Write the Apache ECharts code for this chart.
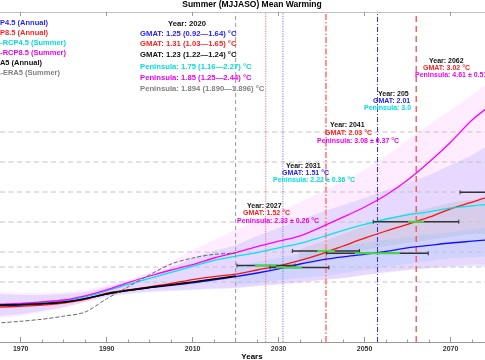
<!DOCTYPE html>
<html><head><meta charset="utf-8">
<script src="https://cdn.jsdelivr.net/npm/echarts@6/dist/echarts.min.js"></script>
<style>html,body{margin:0;padding:0;background:#fff}#c{width:485px;height:360px}</style>
</head><body><div id="c"></div>
<script>
// ---------- DATA ----------
const years = [1960,1965,1970,1975,1980,1985,1990,1995,2000,2005,2010,2015,2020,2025,2030,2035,2040,2045,2050,2055,2060,2065,2070,2075,2080];
const obsYears = [1960,1965,1970,1975,1980,1985,1990,1995,2000,2005,2010,2015,2020];
const gmatRcp45 = [0.58,0.60,0.615,0.635,0.665,0.72,0.80,0.86,0.905,0.945,0.985,1.035,1.09,1.15,1.22,1.30,1.37,1.42,1.46,1.51,1.57,1.61,1.65,1.68,1.71];
const gmatRcp85 = [0.56,0.58,0.595,0.615,0.65,0.71,0.815,0.87,0.92,0.975,1.04,1.09,1.13,1.20,1.27,1.36,1.47,1.60,1.73,1.85,1.96,2.08,2.22,2.33,2.45];
const penRcp45 = [0.60,0.62,0.635,0.66,0.69,0.75,0.85,0.96,1.06,1.16,1.26,1.36,1.43,1.49,1.57,1.645,1.75,1.86,1.96,2.05,2.12,2.17,2.23,2.27,2.30];
const penRcp85 = [0.61,0.63,0.645,0.67,0.70,0.77,0.87,0.99,1.10,1.20,1.29,1.40,1.49,1.59,1.68,1.77,1.92,2.08,2.25,2.45,2.70,3.00,3.33,3.70,3.98];
const gmatEra5 = [0.60,0.615,0.625,0.64,0.665,0.72,0.80,0.86,0.91,0.955,1.0,1.05,1.10];
const penEra5 = [0.28,0.317,0.345,0.38,0.43,0.50,0.72,0.92,1.12,1.30,1.40,1.46,1.48];

// uncertainty ranges
const pinkUpper = [0.867,0.833,0.817,0.817,0.833,0.867,0.95,1.033,1.167,1.333,1.533,1.7,1.867,2.017,2.167,2.333,2.5,2.683,2.867,3.1,3.367,3.617,3.867,4.117,4.333];
const pinkLower = [0.367,0.4,0.433,0.5,0.567,0.667,0.767,0.817,0.85,0.867,0.883,0.9,0.9,0.933,0.95,0.983,1.033,1.067,1.117,1.15,1.2,1.233,1.267,1.3,1.333];
const lavUpper = [0.833,0.8,0.783,0.783,0.8,0.833,0.917,1.0,1.1,1.233,1.4,1.517,1.617,1.767,1.9,2.033,2.167,2.283,2.4,2.533,2.65,2.783,2.95,3.117,3.283];
const lavLower = [0.4,0.433,0.467,0.517,0.583,0.667,0.75,0.8,0.833,0.85,0.867,0.883,0.9,0.933,0.967,1.0,1.033,1.067,1.117,1.167,1.2,1.233,1.25,1.267,1.283];
const grayYears = [2035,2040,2045,2050,2055,2060,2065,2070,2075,2080];
const grayUpper = [1.533,1.667,1.8,1.933,2.05,2.15,2.233,2.317,2.367,2.4];
const grayLower = [1.333,1.4,1.467,1.533,1.6,1.65,1.7,1.75,1.8,1.833];
const blueYears = [2020,2030,2040,2050,2060,2070,2080];
const blueUpper = [1.233,1.4,1.533,1.65,1.75,1.833,1.9];
const blueLower = [0.967,1.033,1.1,1.2,1.3,1.4,1.467];

// crossing-time windows
const errLevel = [1.275,1.242,1.517,1.478,2.005,2.495];
const errStart = [2020.3,2028.0,2033.2,2041.1,2052.0,2072.2];
const errEnd   = [2033.8,2041.7,2048.8,2064.8,2071.9,2086.0];
const greenStart = [2024.5,2029.4,2039.0,2047.7,2060.1,2082.0];
const greenEnd   = [2029.4,2035.4,2043.1,2058.2,2063.8,2084.0];

// reference lines
const hLevels = [1.0,1.25,1.5,2.0,2.5,3.0,3.5];
const vYears = [2020,2027,2031,2041,2053,2062];

// axis ticks
const majorTicks = [1970,1990,2010,2030,2050,2070];
const minorTicks = [1970,1975,1980,1985,1990,1995,2000,2005,2010,2015,2020,2025,2030,2035,2040,2045,2050,2055,2060,2065,2070,2075];
const xMin = 1965.19, xMax = 2078.0, yMin = 0, yMax = 5.5;

// ---------- CHART ----------
const FONT = '"Liberation Sans", Arial, sans-serif';
const pairs = (xs, ys) => xs.map((x, i) => [x, ys[i]]);
const chart = echarts.init(document.getElementById('c'), null, {renderer: 'canvas'});

function band(name, xs, up, lo, color, z) {
  return {
    name, type: 'custom', coordinateSystem: 'cartesian2d', z, silent: true, clip: true,
    data: [[2000, 1]],
    renderItem: (params, api) => {
      const pts = [];
      for (let i = 0; i < xs.length; i++) pts.push(api.coord([xs[i], up[i]]));
      for (let i = xs.length - 1; i >= 0; i--) pts.push(api.coord([xs[i], lo[i]]));
      return {type: 'polygon', shape: {points: pts, smooth: 0.2}, style: {fill: color}};
    }
  };
}
function line(name, xs, ys, color, width, type, z) {
  return {name, type: 'line', data: pairs(xs, ys), showSymbol: false, smooth: 0.3, z: z || 5,
    lineStyle: {color, width, type: type || 'solid'}, silent: true};
}

const vStyles = [
  {stroke: '#9a9a9a', lineWidth: 1, lineDash: [4, 3]},
  {stroke: '#ff6a6a', lineWidth: 1, lineDash: [1.2, 1.3]},
  {stroke: '#7a7aff', lineWidth: 1, lineDash: [1.2, 1.3]},
  {stroke: '#ff9090', lineWidth: 2, lineDash: [6, 2, 1.5, 2]},
  {stroke: '#2a2aff', lineWidth: 1, lineDash: [5, 2, 1, 2]},
  {stroke: '#ff4a4a', lineWidth: 1.3, lineDash: [6, 4]}
];

const refLines = {
  type: 'custom', coordinateSystem: 'cartesian2d', z: 2, silent: true,
  data: [[2000, 1]],
  renderItem: (params, api) => {
    const ch = [];
    hLevels.forEach(v => {
      const a = api.coord([xMin, v]), b = api.coord([xMax, v]);
      ch.push({type: 'line', shape: {x1: a[0], y1: a[1], x2: b[0], y2: b[1]},
        style: {stroke: '#c4c4c4', lineWidth: 1, lineDash: [5, 3.5]}});
    });
    vYears.forEach((y, i) => {
      const a = api.coord([y, yMin]), b = api.coord([y, yMax]);
      ch.push({type: 'line', shape: {x1: a[0], y1: a[1], x2: b[0], y2: b[1]}, style: vStyles[i]});
    });
    return {type: 'group', children: ch};
  }
};

const errSeries = {
  type: 'custom', coordinateSystem: 'cartesian2d', z: 8, silent: true, clip: true,
  data: errLevel.map((v, i) => [errStart[i], v, i]),
  renderItem: (params, api) => {
    const i = api.value(2);
    const a = api.coord([errStart[i], errLevel[i]]);
    const b = api.coord([errEnd[i], errLevel[i]]);
    const g1 = api.coord([greenStart[i], errLevel[i]]);
    const g2 = api.coord([greenEnd[i], errLevel[i]]);
    return {type: 'group', children: [
      {type: 'line', shape: {x1: a[0], y1: a[1], x2: b[0], y2: b[1]}, style: {stroke: '#333', lineWidth: 1.6}},
      {type: 'line', shape: {x1: a[0], y1: a[1] - 2, x2: a[0], y2: a[1] + 2}, style: {stroke: '#333', lineWidth: 1}},
      {type: 'line', shape: {x1: b[0], y1: b[1] - 2, x2: b[0], y2: b[1] + 2}, style: {stroke: '#333', lineWidth: 1}},
      {type: 'line', shape: {x1: g1[0], y1: g1[1], x2: g2[0], y2: g2[1]}, style: {stroke: '#44dd44', lineWidth: 2}}
    ]};
  }
};

function txt(x, y, text, fill, size, align) {
  return {type: 'text', x, y, z: 100, silent: true,
    style: {text, fill, font: 'bold ' + size + 'px ' + FONT, textAlign: align || 'left', textVerticalAlign: 'middle'}};
}

const graphics = [
  txt(252, 5, 'Summer (MJJASO) Mean Warming', '#000', 8.5, 'center'),
  txt(252, 357, 'Years', '#000', 8, 'center'),
  txt(48, 23, 'GMAT-RCP4.5 (Annual)', '#1f1fff', 7.5, 'right'),
  txt(48, 33, 'GMAT-RCP8.5 (Annual)', '#ff1f1f', 7.5, 'right'),
  txt(66, 43, 'Peninsula-RCP4.5 (Summer)', '#00dddd', 7.5, 'right'),
  txt(66, 53, 'Peninsula-RCP8.5 (Summer)', '#ee00ee', 7.5, 'right'),
  txt(42, 63, 'GMAT-ERA5 (Annual)', '#111', 7.5, 'right'),
  txt(60, 73, 'Peninsula-ERA5 (Summer)', '#808080', 7.5, 'right'),

  txt(187, 24, 'Year: 2020', '#111', 7.7, 'center'),
  txt(140, 34, 'GMAT: 1.25 (0.92\u20141.64) \u00b0C', '#1f1fff', 7.7),
  txt(140, 44, 'GMAT: 1.31 (1.03\u20141.65) \u00b0C', '#ff1f1f', 7.7),
  txt(140, 55, 'GMAT: 1.23 (1.22\u20141.24) \u00b0C', '#111', 7.7),
  txt(140, 67, 'Peninsula: 1.75 (1.16\u20142.27) \u00b0C', '#00dddd', 7.7),
  txt(140, 78, 'Peninsula: 1.85 (1.25\u20142.44) \u00b0C', '#ee00ee', 7.7),
  txt(140, 89, 'Peninsula: 1.894 (1.890\u20141.896) \u00b0C', '#808080', 7.7),

  txt(247, 206, 'Year: 2027', '#111', 7),
  txt(243, 213, 'GMAT: 1.52 \u00b0C', '#ff1f1f', 7),
  txt(237, 221, 'Peninsula: 2.33 \u00b1 0.26 \u00b0C', '#ee00ee', 7),

  txt(286, 166, 'Year: 2031', '#111', 7),
  txt(282, 173, 'GMAT: 1.51 \u00b0C', '#1f1fff', 7),
  txt(273, 180, 'Peninsula: 2.22 \u00b1 0.36 \u00b0C', '#00dddd', 7),

  txt(330, 125, 'Year: 2041', '#111', 7),
  txt(325, 133, 'GMAT: 2.03 \u00b0C', '#ff1f1f', 7),
  txt(317, 141, 'Peninsula: 3.08 \u00b1 0.37 \u00b0C', '#ee00ee', 7),

  txt(378, 94, 'Year: 205', '#111', 7),
  txt(373, 101, 'GMAT: 2.01', '#1f1fff', 7),
  txt(364, 108, 'Peninsula: 3.0', '#00dddd', 7),

  txt(429, 61, 'Year: 2062', '#111', 7),
  txt(423, 68, 'GMAT: 3.02 \u00b0C', '#ff1f1f', 7),
  txt(415, 75, 'Peninsula: 4.61 \u00b1 0.51 \u00b0C', '#ee00ee', 7)
];

const axisBase = {type: 'value', min: xMin, max: xMax, splitLine: {show: false}};
const option = {
  animation: false,
  backgroundColor: '#fff',
  grid: {left: 0, right: 0, top: 12, bottom: 18, containLabel: false},
  xAxis: [
    Object.assign({}, axisBase, {position: 'bottom',
     axisLine: {show: true, onZero: false, lineStyle: {color: '#9a9a9a', width: 1}},
     axisTick: {show: true, inside: true, length: 5, customValues: majorTicks, lineStyle: {color: '#9a9a9a'}},
     axisLabel: {show: true, margin: 4, color: '#333', fontWeight: 'bold', fontSize: 7, fontFamily: FONT,
       customValues: majorTicks, formatter: v => String(Math.round(v))}}),
    Object.assign({}, axisBase, {position: 'bottom', offset: 0,
     axisLine: {show: false, onZero: false},
     axisTick: {show: true, inside: true, length: 2.5, customValues: minorTicks, lineStyle: {color: '#9a9a9a'}},
     axisLabel: {show: false}}),
    Object.assign({}, axisBase, {position: 'top',
     axisLine: {show: true, onZero: false, lineStyle: {color: '#c0c0c0', width: 1}},
     axisTick: {show: true, inside: true, length: 4, customValues: majorTicks, lineStyle: {color: '#9a9a9a'}},
     axisLabel: {show: false}})
  ],
  yAxis: {type: 'value', min: yMin, max: yMax, show: true,
    axisLine: {show: false}, axisTick: {show: false}, axisLabel: {show: false}, splitLine: {show: false}},
  graphic: graphics,
  series: [
    band('pink', years, pinkUpper, pinkLower, 'rgba(255,150,255,0.18)', 1),
    band('lav', years, lavUpper, lavLower, 'rgba(160,160,255,0.26)', 1),
    band('gray', grayYears, grayUpper, grayLower, 'rgba(170,170,170,0.25)', 1),
    band('lblue', blueYears, blueUpper, blueLower, 'rgba(120,190,255,0.2)', 1),
    refLines,
    line('GMAT-RCP4.5 (Annual)', years, gmatRcp45, '#1010ff', 1.3),
    line('GMAT-RCP8.5 (Annual)', years, gmatRcp85, '#ff1010', 1.3),
    line('Peninsula-RCP4.5 (Summer)', years, penRcp45, '#00e5ee', 1.3),
    line('Peninsula-RCP8.5 (Summer)', years, penRcp85, '#ff00ff', 1.3),
    line('GMAT-ERA5 (Annual)', obsYears, gmatEra5, '#000', 1.6, 'solid', 6),
    line('Peninsula-ERA5 (Summer)', obsYears, penEra5, '#666', 1, [4, 2], 6),
    errSeries
  ]
};
chart.setOption(option);
</script></body></html>
